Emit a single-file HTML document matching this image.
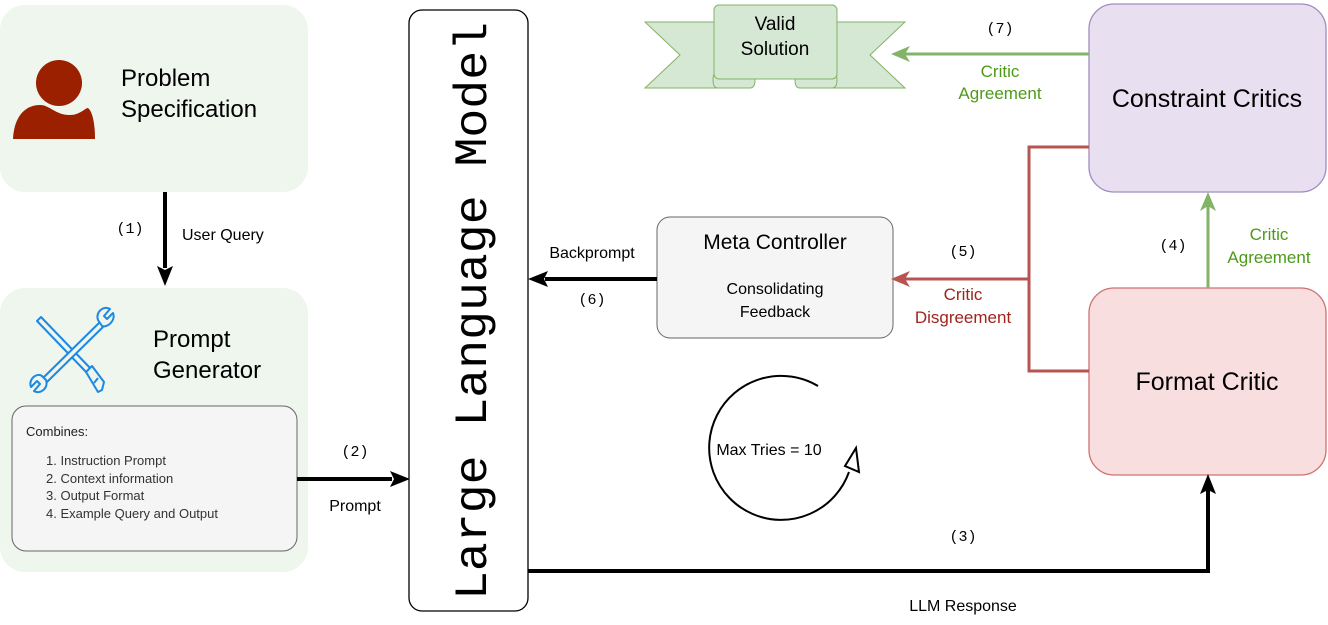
<!DOCTYPE html>
<html><head><meta charset="utf-8"><style>
html,body{margin:0;padding:0;background:#fff;}
svg{display:block;font-family:"Liberation Sans",sans-serif;}
.mono{font-family:"Liberation Mono",monospace;}
</style></head><body>
<svg width="1328" height="625" viewBox="0 0 1328 625" xmlns="http://www.w3.org/2000/svg">
<!-- Problem Specification -->
<rect x="0" y="5" width="308" height="187" rx="25" fill="#eef6ee"/>
<circle cx="59" cy="83" r="23" fill="#9a2000"/>
<path d="M13,139 C14,118 24,105 40,105 C50,105 55,115 70,115 C80,115 85,108 88,108 C93,112 95,125 95,139 Z" fill="#9a2000"/>
<text x="121" y="86" font-size="24">Problem</text>
<text x="121" y="117" font-size="24">Specification</text>
<line x1="165" y1="192" x2="165" y2="268" stroke="#000" stroke-width="4"/>
<path d="M165,286 L157,266 L165,270 L173,266 Z" fill="#000"/>
<text x="130" y="233" font-size="15" text-anchor="middle" class="mono">(1)</text>
<text x="182" y="240" font-size="16">User Query</text>
<!-- Prompt Generator -->
<rect x="0" y="288" width="308" height="284" rx="25" fill="#eef6ee"/>
<g stroke="#1e88e5" fill="#eef6ee" stroke-width="2" stroke-linejoin="round">
<!-- screwdriver -->
<path d="M37,321 L41,317 L92,370 L88,374 Z"/>
<path d="M86,372 L92,366 L104,382 L102,390 L98,392 Z"/>
<path d="M94,383 L98,378"/>
<!-- wrench -->
<path d="M100,322 L104,326 L47,382 L43,378 Z"/>
<path d="M98,320 C95,312 104,305 110,309 L104,316 L107,319 L113,313 C116,320 108,328 102,326 Z"/>
<path d="M46,380 C49,388 40,395 34,391 L40,384 L37,381 L31,387 C28,380 36,372 42,376 Z"/>
</g>
<text x="153" y="347" font-size="24">Prompt</text>
<text x="153" y="378" font-size="24">Generator</text>
<rect x="12" y="406" width="285" height="145" rx="14" fill="#f5f5f5" stroke="#666" stroke-width="1"/>
<text x="26" y="436" font-size="13" fill="#222">Combines:</text>
<text x="46" y="465" font-size="13" fill="#333">1. Instruction Prompt</text>
<text x="46" y="483" font-size="13" fill="#333">2. Context information</text>
<text x="46" y="500" font-size="13" fill="#333">3. Output Format</text>
<text x="46" y="518" font-size="13" fill="#333">4. Example Query and Output</text>
<line x1="297" y1="479" x2="392" y2="479" stroke="#000" stroke-width="4"/>
<path d="M410,479 L390,471 L394,479 L390,487 Z" fill="#000"/>
<text x="355" y="456" font-size="15" text-anchor="middle" class="mono">(2)</text>
<text x="355" y="511" font-size="16" text-anchor="middle">Prompt</text>
<!-- LLM -->
<rect x="409" y="10" width="119" height="601" rx="13" fill="#fff" stroke="#000" stroke-width="1.3"/>
<text transform="translate(486,311) rotate(-90)" font-size="46" text-anchor="middle" class="mono" textLength="578" lengthAdjust="spacingAndGlyphs">Large Language Model</text>
<!-- Meta Controller -->
<rect x="657" y="217" width="236" height="121" rx="13" fill="#f5f5f5" stroke="#666" stroke-width="1"/>
<text x="775" y="249" font-size="21" text-anchor="middle">Meta Controller</text>
<text x="775" y="294" font-size="16" text-anchor="middle">Consolidating</text>
<text x="775" y="317" font-size="16" text-anchor="middle">Feedback</text>
<line x1="657" y1="279" x2="545" y2="279" stroke="#000" stroke-width="4"/>
<path d="M528,279 L548,271 L544,279 L548,287 Z" fill="#000"/>
<text x="592" y="258" font-size="16" text-anchor="middle">Backprompt</text>
<text x="592" y="304" font-size="15" text-anchor="middle" class="mono">(6)</text>
<!-- Valid Solution banner -->
<g fill="#d5e8d4" stroke="#82b366" stroke-width="1">
<path d="M645,22 L720,22 L720,88 L645,88 L680,55 Z"/>
<path d="M905,22 L830,22 L830,88 L905,88 L870,55 Z"/>
<path d="M718,72 Q713,72 713,80 Q713,88 718,88 L750,88 Q755,88 755,80 L755,72 Z"/>
<path d="M832,72 Q837,72 837,80 Q837,88 832,88 L800,88 Q795,88 795,80 L795,72 Z"/>
<rect x="714" y="5" width="123" height="74" rx="5"/>
</g>
<text x="775" y="30" font-size="19" text-anchor="middle">Valid</text>
<text x="775" y="55" font-size="19" text-anchor="middle">Solution</text>
<!-- Constraint Critics -->
<rect x="1089" y="4" width="237" height="188" rx="25" fill="#e8e0f0" stroke="#a08cc0" stroke-width="1.3"/>
<text x="1207" y="107" font-size="25" text-anchor="middle">Constraint Critics</text>
<!-- Format Critic -->
<rect x="1089" y="288" width="237" height="187" rx="25" fill="#f8dede" stroke="#d07070" stroke-width="1.3"/>
<text x="1207" y="390" font-size="25" text-anchor="middle">Format Critic</text>
<!-- green (7) -->
<line x1="1089" y1="54" x2="905" y2="54" stroke="#82b366" stroke-width="3"/>
<path d="M891,54 L910,46 L905,54 L910,62 Z" fill="#82b366"/>
<text x="1000" y="33" font-size="15" text-anchor="middle" class="mono">(7)</text>
<text x="1000" y="77" font-size="17" text-anchor="middle" fill="#4d9a1a">Critic</text>
<text x="1000" y="99" font-size="17" text-anchor="middle" fill="#4d9a1a">Agreement</text>
<!-- green (4) -->
<line x1="1208" y1="288" x2="1208" y2="205" stroke="#82b366" stroke-width="3"/>
<path d="M1208,192 L1216,211 L1208,206 L1200,211 Z" fill="#82b366"/>
<text x="1173" y="250" font-size="15" text-anchor="middle" class="mono">(4)</text>
<text x="1269" y="240" font-size="17" text-anchor="middle" fill="#4d9a1a">Critic</text>
<text x="1269" y="263" font-size="17" text-anchor="middle" fill="#4d9a1a">Agreement</text>
<!-- red -->
<path d="M1089,147 L1029,147 L1029,371 L1089,371" fill="none" stroke="#b85450" stroke-width="3"/>
<line x1="1029" y1="279" x2="905" y2="279" stroke="#b85450" stroke-width="3"/>
<path d="M891,279 L910,271 L905,279 L910,287 Z" fill="#b85450"/>
<text x="963" y="256" font-size="15" text-anchor="middle" class="mono">(5)</text>
<text x="963" y="300" font-size="17" text-anchor="middle" fill="#a0241c">Critic</text>
<text x="963" y="323" font-size="17" text-anchor="middle" fill="#a0241c">Disgreement</text>
<!-- LLM response -->
<path d="M528,571 L1208,571 L1208,490" fill="none" stroke="#000" stroke-width="4"/>
<path d="M1208,474 L1216,494 L1208,490 L1200,494 Z" fill="#000"/>
<text x="963" y="541" font-size="15" text-anchor="middle" class="mono">(3)</text>
<text x="963" y="611" font-size="16" text-anchor="middle">LLM Response</text>
<!-- Max tries -->
<path d="M818,386 A72,72 0 1 0 849,472" fill="none" stroke="#000" stroke-width="2"/>
<path d="M856,448 L859,472 L845,466 Z" fill="#fff" stroke="#000" stroke-width="2"/>
<text x="769" y="455" font-size="16" text-anchor="middle">Max Tries = 10</text>
</svg>
</body></html>
